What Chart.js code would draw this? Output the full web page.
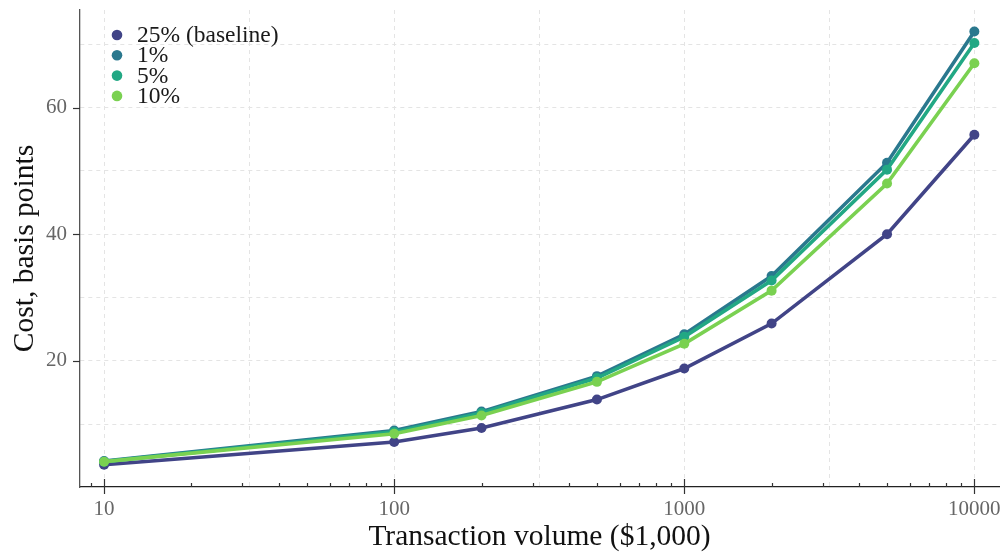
<!DOCTYPE html>
<html>
<head>
<meta charset="utf-8">
<script src="https://cdn.jsdelivr.net/npm/chart.js@4/dist/chart.umd.min.js"></script>
<style>
  html, body { margin: 0; padding: 0; background: #ffffff; }
  #wrap { width: 1006px; height: 552px; }
</style>
</head>
<body>
<div id="wrap"><canvas id="c" width="1006" height="552"></canvas></div>
<script>
// Transaction volume, in thousands of dollars
const volumes = [10, 100, 200, 500, 1000, 2000, 5000, 10000];

// Cost in basis points for each scenario
const costBaseline = [3.6, 7.2, 9.4, 13.9, 18.8, 25.9, 40.0, 55.7];
const cost1 = [4.2, 9.0, 12.0, 17.6, 24.2, 33.4, 51.3, 72.0];
const cost5 = [4.1, 8.8, 11.8, 17.3, 23.8, 32.7, 50.2, 70.2];
const cost10 = [4.1, 8.5, 11.4, 16.7, 22.7, 31.1, 48.0, 67.0];

const seriesNames = ['25% (baseline)', '1%', '5%', '10%'];
const seriesColors = ['#414487', '#2a788e', '#22a884', '#7ad151'];

// Axis ticks
const xDecades = [10, 100, 1000, 10000];
const xHalfDecades = [31.6228, 316.228, 3162.28];
const xMinorMultipliers = [2, 3, 4, 5, 6, 7, 8, 9];
const yGridValues = [10, 20, 30, 40, 50, 60, 70];
const yLabelValues = [20, 40, 60];

const FONT = "'Liberation Serif', 'DejaVu Serif', serif";

function toPoints(vals) {
  return volumes.map((v, i) => ({ x: v, y: vals[i] }));
}

const allSeries = [costBaseline, cost1, cost5, cost10];
const datasets = allSeries.map((vals, i) => ({
  label: seriesNames[i],
  data: toPoints(vals),
  borderColor: seriesColors[i],
  backgroundColor: seriesColors[i],
  borderWidth: 3.6,
  pointRadius: 5,
  pointBorderWidth: 0,
  pointBackgroundColor: seriesColors[i],
  tension: 0,
  order: allSeries.length - i
}));

function isIn(v, list) {
  return list.some(t => Math.abs(t - v) / t < 1e-6);
}

// x tick list: decade majors, half-decade grid positions and minor marks
function buildXTicks(min, max) {
  const out = [];
  const seen = [];
  const push = (v, kind) => {
    if (v >= min && v <= max && !isIn(v, seen)) { seen.push(v); out.push({ value: v, kind }); }
  };
  xDecades.forEach(d => push(d, 'major'));
  xHalfDecades.forEach(h => push(h, 'half'));
  [1, 10, 100, 1000].forEach(base => xMinorMultipliers.forEach(m => push(base * m, 'minor')));
  out.sort((a, b) => a.value - b.value);
  return out;
}

const X_MIN = 8.26, X_MAX = 12160;

const tickMarks = {
  id: 'tickMarks',
  afterDatasetsDraw(chart) {
    const { ctx } = chart;
    const xs = chart.scales.x, ys = chart.scales.y;
    const axisY = xs.top;
    const axisX = ys.right;
    ctx.save();
    ctx.strokeStyle = '#333333';
    ctx.lineWidth = 1.2;
    xs.ticks.forEach(t => {
      if (t.kind === 'half') return;
      const px = Math.round(xs.getPixelForValue(t.value)) + 0.5;
      ctx.beginPath();
      if (t.kind === 'major') { ctx.moveTo(px, axisY - 8); ctx.lineTo(px, axisY + 7); }
      else { ctx.moveTo(px, axisY - 4); ctx.lineTo(px, axisY); }
      ctx.stroke();
    });
    ys.ticks.forEach(t => {
      if (!isIn(t.value, yLabelValues)) return;
      const py = Math.round(ys.getPixelForValue(t.value)) + 0.5;
      ctx.beginPath();
      ctx.moveTo(axisX - 7, py);
      ctx.lineTo(axisX, py);
      ctx.stroke();
    });
    ctx.restore();
  }
};

const insetLegend = {
  id: 'insetLegend',
  afterDraw(chart) {
    const { ctx } = chart;
    ctx.save();
    ctx.font = '23.5px ' + FONT;
    ctx.textBaseline = 'middle';
    ctx.textAlign = 'left';
    chart.data.datasets.forEach((ds, i) => {
      const y = 35 + i * 20.3;
      ctx.fillStyle = ds.borderColor;
      ctx.beginPath();
      ctx.arc(117, y, 5.3, 0, Math.PI * 2);
      ctx.fill();
      ctx.fillStyle = '#1a1a1a';
      ctx.fillText(ds.label, 137, y + 1);
    });
    ctx.restore();
  }
};

new Chart(document.getElementById('c'), {
  type: 'line',
  data: { datasets },
  options: {
    responsive: false,
    devicePixelRatio: 1,
    animation: false,
    layout: { padding: { top: 10, right: 7, bottom: 0, left: 0 } },
    plugins: { legend: { display: false }, tooltip: { enabled: false } },
    scales: {
      x: {
        type: 'logarithmic',
        min: X_MIN,
        max: X_MAX,
        afterBuildTicks(scale) { scale.ticks = buildXTicks(scale.min, scale.max); },
        afterFit(scale) {
          scale.height = 65;
          scale.paddingLeft = 0;
          scale.paddingRight = 0;
        },
        grid: {
          drawTicks: false,
          lineWidth: 1,
          color: ctx => (ctx.tick && (ctx.tick.kind === 'major' || ctx.tick.kind === 'half')) ? '#e4e4e4' : 'rgba(0,0,0,0)'
        },
        border: { display: true, color: '#222222', width: 1.3, dash: [4, 4] },
        ticks: {
          autoSkip: false,
          maxRotation: 0,
          padding: 10,
          color: '#666666',
          font: { family: FONT, size: 21 },
          callback(value) { return isIn(value, xDecades) ? String(Math.round(value)) : ''; }
        },
        title: {
          display: true,
          text: 'Transaction volume ($1,000)',
          color: '#111111',
          font: { family: FONT, size: 29.5, lineHeight: 1.0 },
          padding: { top: 0, bottom: 0 }
        }
      },
      y: {
        type: 'linear',
        min: 0.1,
        max: 75.4,
        afterBuildTicks(scale) { scale.ticks = yGridValues.map(v => ({ value: v })); },
        afterFit(scale) {
          scale.width = 80;
          scale.paddingTop = 0;
          scale.paddingBottom = 0;
        },
        grid: { drawTicks: false, lineWidth: 1, color: '#e4e4e4' },
        border: { display: true, color: '#555555', width: 1.3, dash: [4, 4] },
        ticks: {
          padding: 13,
          color: '#666666',
          font: { family: FONT, size: 21 },
          callback(value) { return isIn(value, yLabelValues) ? String(value) : ''; }
        },
        title: {
          display: true,
          text: 'Cost, basis points',
          color: '#111111',
          font: { family: FONT, size: 29.5 },
          padding: { top: 8, bottom: 0 }
        }
      }
    }
  },
  plugins: [tickMarks, insetLegend]
});
</script>
</body>
</html>
